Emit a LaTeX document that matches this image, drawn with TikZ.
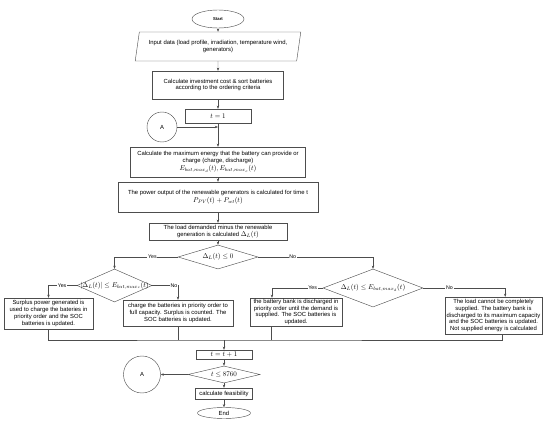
\documentclass[tikz,border=0pt]{standalone}
\usepackage{fontspec}
\setmainfont{Liberation Sans}
\usetikzlibrary{arrows.meta, positioning, shapes.geometric, calc}
\definecolor{cline}{HTML}{4D4D4D}
\newcommand{\fml}{\fontsize{10}{12}\selectfont}
\tikzset{
  every picture/.style={font=\fontsize{8.4}{9.8}\selectfont, line width=0.6pt},
  sz/.style 2 args={minimum width=#1*0.05cm, minimum height=#2*0.05cm},
  box/.style={draw=cline, rectangle, align=center, inner sep=1pt},
  datain/.style={draw=cline, trapezium, trapezium left angle=75, trapezium right angle=105, trapezium stretches=true, align=center, inner sep=1pt},
  decision/.style={draw=cline, diamond, inner sep=0pt, font=\fml},
  terminal/.style={draw=cline, ellipse, inner sep=0pt},
  conn/.style={draw=cline, circle, inner sep=0pt},
  arrow/.style={-{Stealth[length=4.5pt, width=3.5pt]}, draw=cline},
  line/.style={draw=cline},
  lbl/.style={fill=white, inner sep=1pt, font=\fontsize{7.5}{8}\selectfont},
}

\begin{document}
\begin{tikzpicture}[x=0.05cm, y=-0.05cm]
  \useasboundingbox (0,0) rectangle (550,424);
  % main column
  \node[terminal, sz={52}{18}] (start) at (218,19) {\fontsize{6}{7}\selectfont\bfseries Start};
  \node[datain, sz={166}{29}] (input) at (218,46.5) {Input data (load profile, irradiation, temperature wind,\\ generators)};
  \node[box, sz={131}{28}] (invest) at (218,85) {Calculate investment cost \& sort batteries\\ according to the ordering criteria};
  \node[box, sz={66}{14}] (t1) at (218,116) {\fml $t=1$};
  \node[conn, sz={30}{30}] (A1) at (162,127) {A};
  \node[box, sz={175}{30}] (maxE) at (218,162) {Calculate the maximum energy that the battery can provide or\\ charge (charge, discharge)\\[1pt] {\fml $E_{bat,max_d}(t), E_{bat,max_c}(t)$}};
  \node[box, sz={200}{30}] (power) at (218,197) {The power output of the renewable generators is calculated for time t\\[2pt] {\fml $P_{PV}(t)+P_{wt}(t)$}};
  \node[box, sz={138}{17}] (load) at (218,231.5) {The load demanded minus the renewable\\ generation is calculated {\fml $\Delta_L(t)$}};
  \node[decision, sz={80}{24}] (d1) at (218,257) {\makebox[0pt]{$\Delta_L(t)\leq 0$}};
  % left branch
  \node[decision, sz={75}{33}] (d2) at (114.5,285.5) {\makebox[0pt]{$|\Delta_L(t)|\leq E_{bat,max_c}(t)$}};
  \node[box, sz={89}{31}] (surplus) at (48.5,313.5) {Surplus power generated is\\ used to charge the bateries in\\ priority order and the SOC\\ batteries is updated.};
  \node[box, sz={110}{26}] (charge) at (178,313) {charge the batteries in priority order to\\ full capacity. Surplus is counted. The\\ SOC batteries is updated.};
  % right branch
  \node[decision, sz={100}{38}] (d3) at (373,288) {\makebox[0pt]{$\Delta_L(t)\leq E_{bat,max_d}(t)$}};
  \node[box, sz={92}{28}] (bank) at (296,312) {the battery bank is discharged in\\ priority order until the demand is\\ supplied. The SOC batteries is\\ updated.};
  \node[box, sz={97}{37}] (notsup) at (493.5,315.5) {The load cannot be completely\\ supplied. The battery bank is\\ discharged to its maximum capacity\\ and the SOC batteries is updated.\\ Not supplied energy is calculated};
  % lower column
  \node[box, sz={56}{9}] (tinc) at (224,354.5) {\fml $t=t+1$};
  \node[decision, sz={72}{17}] (d4) at (224,374.5) {\makebox[0pt]{$t\leq 8760$}};
  \node[conn, sz={37}{37}] (A2) at (142,374.5) {A};
  \node[box, sz={57}{11}] (feas) at (224,393.5) {calculate feasibility};
  \node[terminal, sz={53}{11}] (stop) at (224,413) {End};

  \coordinate (bkin) at ($(bank.north west)!0.24!(bank.north east)$);
  \coordinate (bkout) at ($(bank.south west)!0.23!(bank.south east)$);
  \coordinate (nsin) at ($(notsup.north west)!0.62!(notsup.north east)$);
  \coordinate (nsout) at ($(notsup.south west)!0.59!(notsup.south east)$);
  \coordinate (mrg) at (224,340);

  \draw[arrow] (start) -- (input);
  \draw[arrow] (input) -- (invest);
  \draw[arrow] (invest) -- (t1);
  \draw[arrow] (t1) -- (maxE);
  \draw[arrow] (A1.east) -- (A1.east -| t1.south);
  \draw[arrow] (maxE) -- (power);
  \draw[arrow] (power) -- (load);
  \draw[arrow] (load) -- (d1);
  \draw[arrow] (d1.west) -| node[lbl, pos=0.2] {Yes} (d2.north);
  \draw[arrow] (d1.east) -| node[lbl, pos=0.15] {No} (d3.north);
  \draw[arrow] (d2.west) -| node[lbl, pos=0.26] {Yes} (surplus.north);
  \draw[arrow] (d2.east) -| node[lbl, pos=0.42] {No} (charge.north);
  \draw[arrow] (d3.west) -| node[lbl, pos=0.1] {Yes} (bkin);
  \draw[arrow] (d3.east) -| node[lbl, pos=0.16] {No} (nsin);
  % merge
  \draw[line] (surplus.south) |- (mrg) -| (nsout);
  \draw[line] (charge.south) -- (charge.south |- mrg);
  \draw[line] (bkout) -- (bkout |- mrg);
  \draw[arrow] (mrg) -- (tinc);
  \draw[arrow] (tinc) -- (d4);
  \draw[arrow] (d4.west) -- (A2.east);
  \draw[arrow] (d4) -- (feas);
  \draw[arrow] (feas) -- (stop);
\end{tikzpicture}
\end{document}
